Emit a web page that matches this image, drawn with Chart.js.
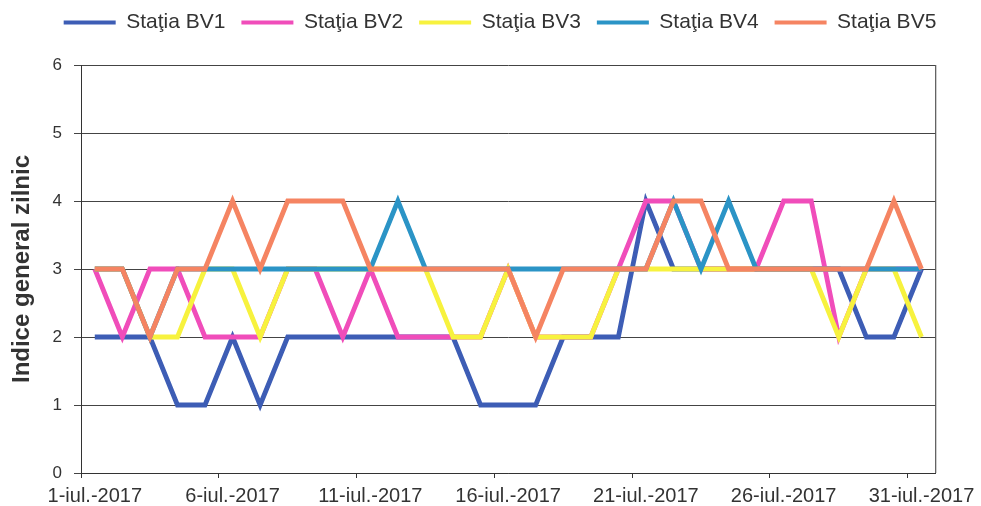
<!DOCTYPE html>
<html>
<head>
<meta charset="utf-8">
<script src="https://cdn.jsdelivr.net/npm/chart.js@4/dist/chart.umd.min.js"></script>
<style>
  html, body { margin: 0; padding: 0; background: #ffffff; }
  #wrap { width: 981px; height: 506px; position: relative; }
</style>
</head>
<body>
<div id="wrap"><canvas id="c" width="981" height="506"></canvas></div>
<script>
// ---- data ----
const days = [];
for (let d = 1; d <= 31; d++) days.push(d + '-iul.-2017');
const seriesNames = ['Staţia BV1', 'Staţia BV2', 'Staţia BV3', 'Staţia BV4', 'Staţia BV5'];
const bv1 = [2,2,2,1,1,2,1,2,2,2,2,2,2,2,1,1,1,2,2,2,4,3,3,3,3,3,3,3,2,2,3];
const bv2 = [3,2,3,3,2,2,2,3,3,2,3,2,2,2,2,3,2,2,2,3,4,4,3,3,3,4,4,2,3,3,3];
const bv3 = [3,3,2,2,3,3,2,3,3,3,3,3,3,2,2,3,2,2,2,3,3,3,3,3,3,3,3,2,3,3,2];
const bv4 = [3,3,2,3,3,3,3,3,3,3,3,4,3,3,3,3,3,3,3,3,3,4,3,4,3,3,3,3,3,3,3];
const bv5 = [3,3,2,3,3,4,3,4,4,4,3,3,3,3,3,3,2,3,3,3,3,4,4,3,3,3,3,3,3,4,3];
const yTicks = [0,1,2,3,4,5,6];
const yTitle = 'Indice general zilnic';

const colors = ['#3D5DB5', '#F04DBA', '#F7F23E', '#2B94C6', '#F58462'];
const values = [bv1, bv2, bv3, bv4, bv5];
const FONT = '"Liberation Sans", Arial, sans-serif';

const frame = {
  id: 'frame',
  beforeLayout(chart) {
    const lg = chart.legend;
    if (lg && !lg._patched) {
      const f = lg.fit.bind(lg);
      lg.fit = function () { f(); this.height += 22; };
      lg._patched = true;
    }
  },
  afterLayout(chart) {
    const lg = chart.legend;
    if (lg) { lg.left += 22; lg.right += 22; }
  },
  beforeDatasetsDraw(chart) {
    const a = chart.chartArea, ctx = chart.ctx;
    ctx.save();
    ctx.strokeStyle = '#333';
    ctx.lineWidth = 1;
    ctx.beginPath();
    ctx.moveTo(a.right + 0.5, a.top);
    ctx.lineTo(a.right + 0.5, a.bottom);
    ctx.stroke();
    ctx.restore();
  }
};

new Chart(document.getElementById('c'), {
  type: 'line',
  data: {
    labels: days,
    datasets: values.map((v, i) => ({
      label: seriesNames[i],
      data: v,
      borderColor: colors[i],
      backgroundColor: colors[i],
      borderWidth: 4.8,
      pointRadius: 0,
      tension: 0,
      fill: false,
      order: 5 - i
    }))
  },
  options: {
    responsive: false,
    animation: false,
    layout: { padding: { left: 20, right: 45, top: -4, bottom: 0 } },
    plugins: {
      tooltip: { enabled: false },
      legend: {
        position: 'top',
        labels: {
          font: { family: FONT, size: 21 },
          color: '#333',
          boxWidth: 52,
          boxHeight: 4,
          padding: 16,
          generateLabels(chart) {
            return Chart.defaults.plugins.legend.labels.generateLabels(chart).map(it => {
              it.lineWidth = 0;
              return it;
            });
          },
          sort: (a, b) => a.datasetIndex - b.datasetIndex
        }
      }
    },
    scales: {
      x: {
        type: 'category',
        offset: true,
        grid: {
          display: true,
          drawOnChartArea: false,
          drawTicks: true,
          offset: true,
          tickLength: 5,
          tickColor: (ctx) => (ctx.index % 5 === 0 ? '#333' : 'rgba(0,0,0,0)')
        },
        border: { display: true, color: '#333', width: 1 },
        ticks: {
          autoSkip: false,
          maxRotation: 0,
          minRotation: 0,
          padding: 6,
          color: '#333',
          font: { family: FONT, size: 20 },
          callback: function (val, idx) { return idx % 5 === 0 ? days[idx] : ''; }
        },
        afterFit(scale) { scale.height = 33; }
      },
      y: {
        min: 0,
        max: 6,
        afterBuildTicks(scale) { scale.ticks = yTicks.map(v => ({ value: v })); },
        grid: { color: '#444', lineWidth: 1, tickLength: 7, drawTicks: true },
        border: { display: true, color: '#333', width: 1 },
        ticks: {
          padding: 12,
          color: '#333',
          font: { family: FONT, size: 17 }
        },
        title: {
          display: true,
          text: yTitle,
          color: '#333',
          font: { family: FONT, size: 24, weight: 'bold' },
          padding: { top: -12, bottom: 0 }
        },
        afterFit(scale) { scale.width = 61; }
      }
    }
  },
  plugins: [frame]
});
</script>
</body>
</html>
